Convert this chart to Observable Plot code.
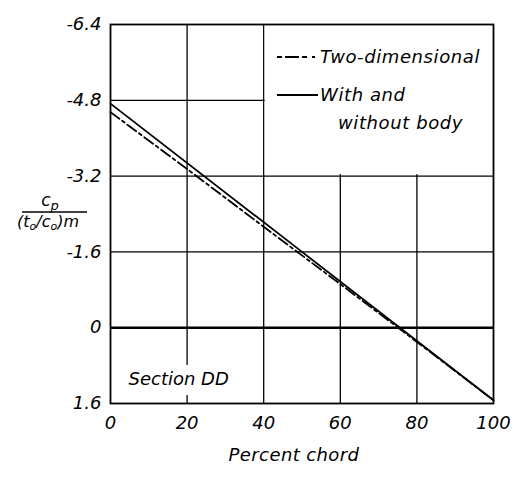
<!DOCTYPE html>
<html><head><meta charset="utf-8">
<script src="https://cdn.jsdelivr.net/npm/d3@7"></script>
<script src="https://cdn.jsdelivr.net/npm/@observablehq/plot@0.6"></script>
<style>body{margin:0;background:#fff;}</style>
</head><body><div id="chart"></div>
<script>
const xTicks = [0, 20, 40, 60, 80, 100];
const yTicks = [-6.4, -4.8, -3.2, -1.6, 0, 1.6];
const chord2D = [0, 20, 40, 60, 80, 100];
const cp2D = [-4.55, -3.35, -2.13, -0.92, 0.3, 1.53];
const chordBody = [0, 50, 100];
const cpBody = [-4.73, -1.6, 1.53];
const seriesNames = ["Two-dimensional", "With and", "without body"];

const twoD = chord2D.map((x, i) => ({x, y: cp2D[i]}));
const body = chordBody.map((x, i) => ({x, y: cpBody[i]}));
const FONT = "'DejaVu Sans', sans-serif";
const DASH = "11,3.5,3,3.5";

const chart = Plot.plot({
  width: 514, height: 477,
  marginLeft: 110, marginRight: 21, marginTop: 24, marginBottom: 74,
  style: {fontFamily: FONT, fontSize: "18px", fontStyle: "italic", color: "#000", background: "#fff"},
  x: {domain: [0, 100], ticks: xTicks, tickSize: 0, tickPadding: 13, tickFormat: d => String(d), label: null},
  y: {domain: [1.6, -6.4], ticks: yTicks, tickSize: 0, tickPadding: 9, tickFormat: d => String(d), label: null},
  marks: [
    Plot.ruleX(xTicks.slice(1, -1), {stroke: "#000", strokeWidth: 1.3}),
    Plot.ruleY([yTicks[1]], {stroke: "#000", strokeWidth: 1.3}),
    Plot.rect([0], {x1: xTicks[2], x2: xTicks[5], y1: yTicks[0], y2: yTicks[2], fill: "#fff", insetLeft: 1.5, insetBottom: 1.5}),
    Plot.ruleY([yTicks[2], yTicks[3]], {stroke: "#000", strokeWidth: 1.3}),
    Plot.ruleY([0], {stroke: "#000", strokeWidth: 2.4}),
    Plot.frame({stroke: "#000", strokeWidth: 1.8}),
    Plot.line(twoD, {x: "x", y: "y", stroke: "#000", strokeWidth: 1.8, strokeDasharray: DASH}),
    Plot.line(body, {x: "x", y: "y", stroke: "#000", strokeWidth: 1.8}),
    Plot.text(["Section DD"], {frameAnchor: "bottom-left", dx: 18, dy: -24, lineAnchor: "middle", textAnchor: "start",
      text: d => d, fill: "#000", stroke: "#fff", strokeWidth: 20, fontSize: 18})
  ]
});
document.getElementById("chart").appendChild(chart);

const svg = d3.select(chart);
const g = svg.append("g").attr("font-family", FONT).attr("font-style", "italic").attr("fill", "#000").attr("text-anchor", "start");
// Legend
g.append("line").attr("x1", 277).attr("x2", 318).attr("y1", 57).attr("y2", 57)
  .attr("stroke", "#000").attr("stroke-width", 1.8).attr("stroke-dasharray", "5,3,14,3,5");
g.append("text").attr("x", 320).attr("y", 57).attr("dy", "0.35em").attr("font-size", 18).attr("letter-spacing", 0.6).text(seriesNames[0]);
g.append("line").attr("x1", 277).attr("x2", 318).attr("y1", 95).attr("y2", 95)
  .attr("stroke", "#000").attr("stroke-width", 1.8);
g.append("text").attr("x", 320).attr("y", 95).attr("dy", "0.35em").attr("font-size", 18).attr("letter-spacing", 0.6).text(seriesNames[1]);
g.append("text").attr("x", 338).attr("y", 123).attr("dy", "0.35em").attr("font-size", 18).attr("letter-spacing", 0.6).text(seriesNames[2]);
// Y label as fraction
const yl = g.append("text").attr("x", 50).attr("y", 206).attr("text-anchor", "middle").attr("font-size", 17);
yl.append("tspan").text("c");
yl.append("tspan").attr("font-size", 13).attr("dy", 4).text("p");
g.append("line").attr("x1", 22).attr("x2", 87).attr("y1", 212).attr("y2", 212).attr("stroke", "#000").attr("stroke-width", 1.3);
const yb = g.append("text").attr("x", 48).attr("y", 227).attr("text-anchor", "middle").attr("font-size", 16);
yb.append("tspan").text("(t");
yb.append("tspan").attr("font-size", 11).attr("dy", 3).text("o");
yb.append("tspan").attr("dy", -3).text("/c");
yb.append("tspan").attr("font-size", 11).attr("dy", 3).text("o");
yb.append("tspan").attr("dy", -3).text(")m");
// X label
g.append("text").attr("x", 294).attr("y", 455).attr("dy", "0.35em").attr("text-anchor", "middle").attr("font-size", 18).attr("letter-spacing", 0.4).text("Percent chord");
</script>
</body></html>
